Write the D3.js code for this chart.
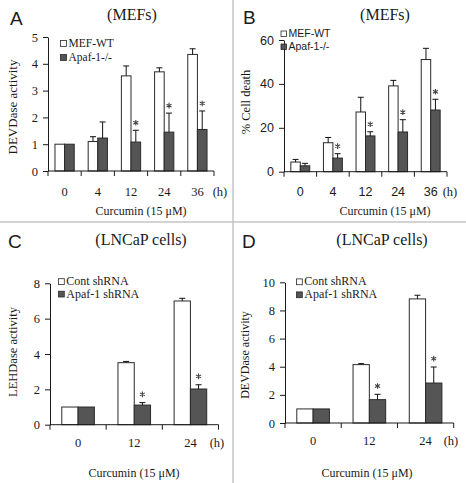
<!DOCTYPE html>
<html>
<head>
<meta charset="utf-8">
<script src="https://cdn.jsdelivr.net/npm/d3@7/dist/d3.min.js"></script>
<style>
  html, body { margin: 0; padding: 0; background: #fff; }
  svg { display: block; }
</style>
</head>
<body>
<svg id="chart" width="466" height="483"></svg>
<script>
// ---------------- DATA ----------------
// Panel A: DEVDase activity, MEFs
const categoriesA = ["0", "4", "12", "24", "36"];
const wtA      = [1.00, 1.10, 3.55, 3.70, 4.35];
const wtErrA   = [0.00, 0.18, 0.37, 0.15, 0.21];
const apafA    = [1.00, 1.23, 1.08, 1.45, 1.55];
const apafErrA = [0.00, 0.60, 0.44, 0.71, 0.69];
const sigA     = [false, false, true, true, true];
const yTicksA  = [0, 1, 2, 3, 4, 5];

// Panel B: % Cell death, MEFs
const categoriesB = ["0", "4", "12", "24", "36"];
const wtB      = [4.4, 13.2, 27.2, 39.1, 51.1];
const wtErrB   = [1.2, 2.4, 6.7, 2.5, 5.1];
const apafB    = [2.7, 6.2, 16.3, 18.1, 28.1];
const apafErrB = [1.1, 2.0, 1.9, 5.6, 4.9];
const sigB     = [false, true, true, true, true];
const yTicksB  = [0, 20, 40, 60];

// Panel C: LEHDase activity, LNCaP cells
const categoriesC = ["0", "12", "24"];
const contC     = [1.00, 3.51, 7.00];
const contErrC  = [0.00, 0.07, 0.15];
const shC       = [1.00, 1.11, 2.02];
const shErrC    = [0.00, 0.14, 0.24];
const sigC      = [false, true, true];
const yTicksC   = [0, 2, 4, 6, 8];

// Panel D: DEVDase activity, LNCaP cells
const categoriesD = ["0", "12", "24"];
const contD     = [1.00, 4.15, 8.82];
const contErrD  = [0.00, 0.07, 0.26];
const shD       = [1.00, 1.66, 2.84];
const shErrD    = [0.00, 0.38, 1.14];
const sigD      = [false, true, true];
const yTicksD   = [0, 2, 4, 6, 8, 10];

const seriesNamesMEF = ["MEF-WT", "Apaf-1-/-"];
const seriesNamesLN  = ["Cont shRNA", "Apaf-1 shRNA"];
const xAxisTitle = "Curcumin (15 \u03BCM)";
const unitLabel = "(h)";

// ---------------- DRAW ----------------
const svg = d3.select("#chart");
const SERIF = "'Liberation Serif', 'Times New Roman', serif";
const SANS = "'Liberation Sans', Arial, sans-serif";
const INK = "#1a1a1a";

// panel dividers
svg.append("line").attr("x1", 233).attr("x2", 233).attr("y1", 0).attr("y2", 483)
  .attr("stroke", "#c4c4c4").attr("stroke-width", 1.5);
svg.append("line").attr("x1", 0).attr("x2", 466).attr("y1", 222).attr("y2", 222)
  .attr("stroke", "#c4c4c4").attr("stroke-width", 1.5);

const starPath = d3.symbol().type(d3.symbolAsterisk).size(22)();

function panel(cfg) {
  const g = svg.append("g");
  const y = d3.scaleLinear().domain([0, cfg.yMax]).range([cfg.yBottom, cfg.yTop]);
  const x = d3.scaleBand().domain(cfg.cats).range([cfg.x0, cfg.x1]).padding(0);
  const bw = x.bandwidth();
  const xs = d3.scaleBand().domain([0, 1]).range([bw * 0.21, bw * 0.79]).padding(0);

  // panel letter
  g.append("text").attr("x", cfg.letter[1]).attr("y", cfg.letter[2])
    .attr("font-family", SANS).attr("font-size", 19).attr("fill", INK)
    .text(cfg.letter[0]);
  // title
  g.append("text").attr("x", cfg.title[1]).attr("y", cfg.title[2])
    .attr("text-anchor", "middle").attr("font-family", SERIF).attr("font-size", 16)
    .attr("fill", INK).text(cfg.title[0]);

  // bars
  const series = [
    { vals: cfg.s1, errs: cfg.e1, fill: "#ffffff" },
    { vals: cfg.s2, errs: cfg.e2, fill: "#555555" }
  ];
  series.forEach((s, si) => {
    cfg.cats.forEach((c, i) => {
      const bx = x(c) + xs(si);
      const w = xs.bandwidth();
      g.append("rect").attr("x", bx).attr("y", y(s.vals[i]))
        .attr("width", w).attr("height", y(0) - y(s.vals[i]))
        .attr("fill", s.fill).attr("stroke", "#2a2a2a").attr("stroke-width", 1);
      if (s.errs[i] > 0) {
        const cx = bx + w / 2;
        const top = y(s.vals[i] + s.errs[i]);
        g.append("line").attr("x1", cx).attr("x2", cx)
          .attr("y1", y(s.vals[i])).attr("y2", top)
          .attr("stroke", "#111").attr("stroke-width", 1);
        g.append("line").attr("x1", cx - 3).attr("x2", cx + 3)
          .attr("y1", top).attr("y2", top)
          .attr("stroke", "#111").attr("stroke-width", 1);
      }
      if (si === 1 && cfg.sig[i]) {
        const cx = bx + w / 2;
        const top = y(s.vals[i] + s.errs[i]);
        g.append("path").attr("d", starPath)
          .attr("transform", `translate(${cx},${top - cfg.starOff})`)
          .attr("fill", "none").attr("stroke", "#444").attr("stroke-width", 1.1);
      }
    });
  });

  // y axis
  const ya = g.append("g").attr("transform", `translate(${cfg.x0},0)`)
    .call(d3.axisLeft(y).tickValues(cfg.yTicks).tickFormat(d3.format("d"))
      .tickSize(5).tickSizeOuter(0).tickPadding(5));
  ya.select(".domain").attr("stroke", INK);
  ya.selectAll(".tick line").attr("stroke", INK);
  ya.selectAll(".tick text").attr("font-family", cfg.tickFont)
    .attr("font-size", cfg.tickSize).attr("fill", INK);

  // x axis
  g.append("line").attr("x1", cfg.x0).attr("x2", cfg.x1)
    .attr("y1", y(0)).attr("y2", y(0)).attr("stroke", INK);
  const bounds = cfg.cats.map(c => x(c)).concat([x.range()[1]]);
  bounds.forEach(b => {
    g.append("line").attr("x1", b).attr("x2", b).attr("y1", y(0)).attr("y2", y(0) + 5)
      .attr("stroke", INK);
  });
  cfg.cats.forEach(c => {
    g.append("text").attr("x", x(c) + bw / 2).attr("y", cfg.tickBase)
      .attr("text-anchor", "middle").attr("font-family", cfg.tickFont)
      .attr("font-size", cfg.tickSize).attr("fill", INK).text(c);
  });
  g.append("text").attr("x", cfg.hX).attr("y", cfg.tickBase)
    .attr("text-anchor", "middle").attr("font-family", SERIF)
    .attr("font-size", cfg.tickSize).attr("fill", INK).text(unitLabel);

  // axis titles
  g.append("text").attr("x", cfg.xTitle[0]).attr("y", cfg.xTitle[1])
    .attr("text-anchor", "middle").attr("font-family", SERIF)
    .attr("font-size", 12).attr("fill", INK).text(xAxisTitle);
  g.append("text")
    .attr("transform", `translate(${cfg.yTitle[1]},${cfg.yTitle[2]}) rotate(-90)`)
    .attr("text-anchor", "middle").attr("font-family", SERIF)
    .attr("font-size", cfg.yTitleSize).attr("fill", INK).text(cfg.yTitle[0]);

  // legend
  const L = cfg.legend;
  cfg.names.forEach((n, i) => {
    const ly = L.y + i * L.dy;
    g.append("rect").attr("x", L.x).attr("y", ly - L.sq).attr("width", L.sq).attr("height", L.sq)
      .attr("fill", i === 0 ? "#fff" : "#555").attr("stroke", "#2a2a2a").attr("stroke-width", 0.8);
    g.append("text").attr("x", L.x + L.sq + 2).attr("y", ly + 0.5)
      .attr("font-family", L.font).attr("font-size", L.size).attr("fill", INK).text(n);
  });
}

panel({
  letter: ["A", 10, 25], title: ["(MEFs)", 132, 20],
  x0: 48, x1: 214, yBottom: 171, yTop: 37, yMax: 5, yTicks: yTicksA,
  cats: categoriesA, s1: wtA, e1: wtErrA, s2: apafA, e2: apafErrA, sig: sigA,
  tickFont: SERIF, tickSize: 12.5, tickBase: 196, hX: 220,
  xTitle: [141, 215], yTitle: ["DEVDase activity", 17, 107], yTitleSize: 13,
  starOff: 7.5,
  names: seriesNamesMEF, legend: { x: 60.5, y: 46.5, dy: 14, sq: 6, font: SERIF, size: 11.5 }
});

panel({
  letter: ["B", 243, 24], title: ["(MEFs)", 385, 20],
  x0: 284, x1: 447, yBottom: 171.7, yTop: 40, yMax: 60, yTicks: yTicksB,
  cats: categoriesB, s1: wtB, e1: wtErrB, s2: apafB, e2: apafErrB, sig: sigB,
  tickFont: SANS, tickSize: 12.5, tickBase: 196, hX: 450,
  xTitle: [385, 215], yTitle: ["% Cell death", 250, 102], yTitleSize: 12.5,
  starOff: 7.5,
  names: seriesNamesMEF, legend: { x: 281, y: 36.5, dy: 13, sq: 5.5, font: SANS, size: 10.5 }
});

panel({
  letter: ["C", 8, 248], title: ["(LNCaP cells)", 141, 245],
  x0: 50, x1: 218.5, yBottom: 424.7, yTop: 283.3, yMax: 8, yTicks: yTicksC,
  cats: categoriesC, s1: contC, e1: contErrC, s2: shC, e2: shErrC, sig: sigC,
  tickFont: SERIF, tickSize: 12.5, tickBase: 446.5, hX: 217,
  xTitle: [134, 477], yTitle: ["LEHDase activity", 17, 352], yTitleSize: 12.5,
  starOff: 8.3,
  names: seriesNamesLN, legend: { x: 58.5, y: 284.5, dy: 12.5, sq: 5.8, font: SERIF, size: 12 }
});

panel({
  letter: ["D", 242, 248], title: ["(LNCaP cells)", 382, 245],
  x0: 285, x1: 453.7, yBottom: 423, yTop: 282.3, yMax: 10, yTicks: yTicksD,
  cats: categoriesD, s1: contD, e1: contErrD, s2: shD, e2: shErrD, sig: sigD,
  tickFont: SERIF, tickSize: 12.5, tickBase: 445, hX: 451,
  xTitle: [367, 477], yTitle: ["DEVDase activity", 249, 355], yTitleSize: 12,
  starOff: 8.3,
  names: seriesNamesLN, legend: { x: 296.5, y: 284.7, dy: 13, sq: 5.8, font: SERIF, size: 12 }
});
</script>
</body>
</html>
